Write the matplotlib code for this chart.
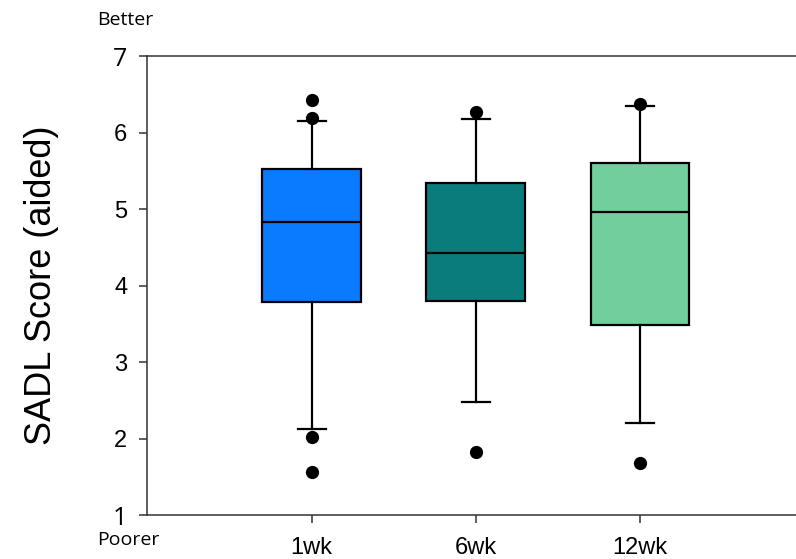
import matplotlib.pyplot as plt

# SADL scores (aided) at each follow-up visit, box summary values
groups = ['1wk', '6wk', '12wk']
q1 = [3.78, 3.80, 3.49]
medians = [4.83, 4.43, 4.96]
q3 = [5.52, 5.34, 5.60]
whisker_low = [2.12, 2.48, 2.20]
whisker_high = [6.15, 6.18, 6.35]
outliers = [[6.42, 6.19, 2.02, 1.56], [6.27, 1.83], [6.37, 1.68]]
colors = ['#0a7aff', '#0a7c7c', '#72cf9d']

stats = []
for i in range(len(groups)):
    stats.append({'label': groups[i], 'q1': q1[i], 'med': medians[i], 'q3': q3[i],
                  'whislo': whisker_low[i], 'whishi': whisker_high[i],
                  'fliers': outliers[i]})

fig = plt.figure(figsize=(7.96, 5.59), dpi=100)
ax = fig.add_axes([0.1853, 0.0787, 0.8247, 0.8211])

bp = ax.bxp(stats, positions=[1, 2, 3], widths=0.6, capwidths=0.17,
            patch_artist=True,
            boxprops=dict(linewidth=1.6, edgecolor='black'),
            medianprops=dict(color='black', linewidth=1.6),
            whiskerprops=dict(color='black', linewidth=1.6),
            capprops=dict(color='black', linewidth=1.6),
            flierprops=dict(marker='o', markerfacecolor='black',
                            markeredgecolor='black', markersize=8.5))
for box, c in zip(bp['boxes'], colors):
    box.set_facecolor(c)

ax.set_xlim(0, 4)
ax.set_ylim(1, 7)
ax.set_yticks(range(1, 8))
ax.set_xticks([1, 2, 3])
ax.set_xticklabels(groups, fontfamily='Liberation Sans', fontsize=17)
ax.tick_params(axis='both', direction='out', length=5.5, width=1.1, color='#333333')
ax.tick_params(axis='y', pad=9)
ax.tick_params(axis='x', pad=10)
for lab in ax.get_yticklabels():
    lab.set_fontfamily('Liberation Sans')
    lab.set_fontsize(17)
# end labels are set in a different face
ylabs = ax.get_yticklabels()
for lab in (ylabs[0], ylabs[-1]):
    lab.set_fontfamily('Open Sans')
    lab.set_fontsize(18)

ax.spines['right'].set_visible(False)
for s in ['left', 'top', 'bottom']:
    ax.spines[s].set_linewidth(1.1)
    ax.spines[s].set_color('#333333')

ax.set_ylabel('SADL Score (aided)', fontfamily='Liberation Sans', fontsize=26)
ax.yaxis.set_label_coords(-0.135, 0.50)

fig.text(97 / 796, 1 - 20 / 559, 'Better', fontfamily='Open Sans', fontsize=14,
         ha='left', va='center')
fig.text(97 / 796, 1 - 540 / 559, 'Poorer', fontfamily='Open Sans', fontsize=14,
         ha='left', va='center')

fig.savefig('out.png', dpi=100)
